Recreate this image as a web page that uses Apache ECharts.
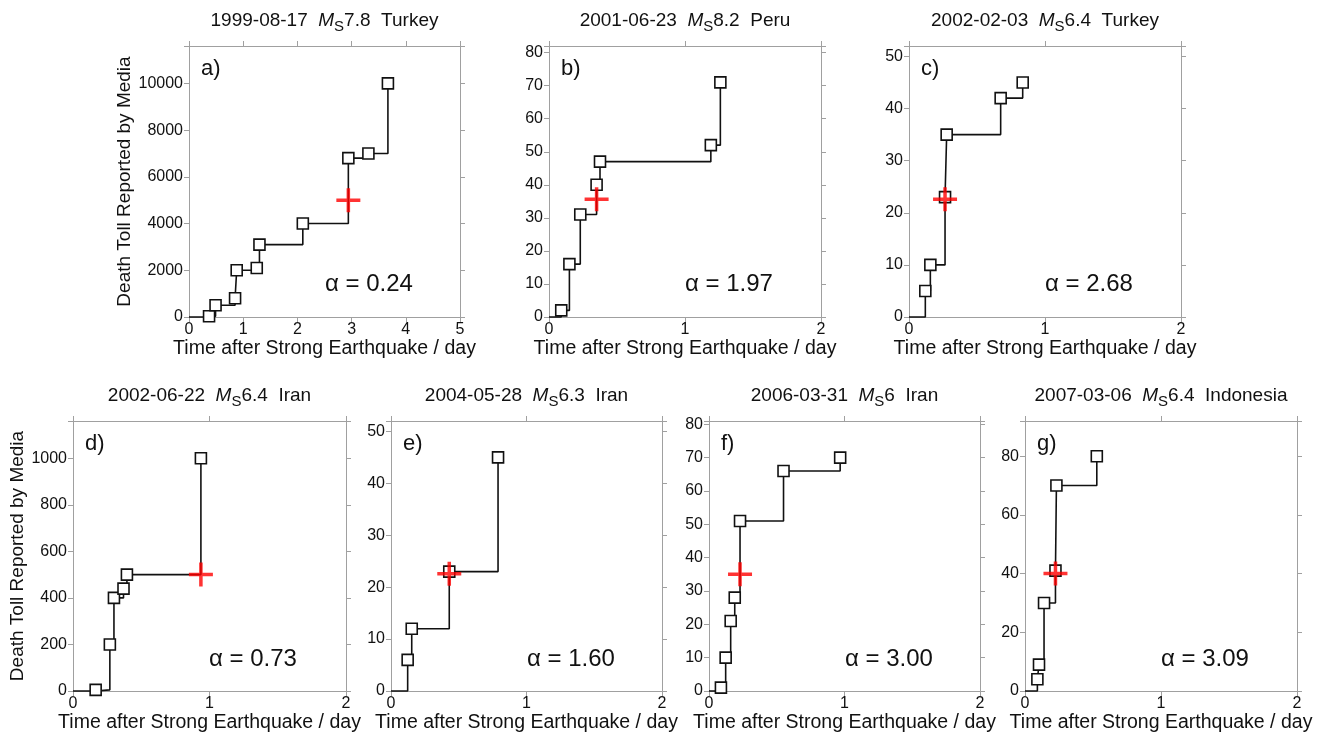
<!DOCTYPE html>
<html style="height: 100%">

<head>
    <meta charset="utf-8">
    <title>Death Toll Reported by Media</title>
</head>

<body style="height: 100%; margin: 0; background: #fff">
    <div id="container" style="width: 1320px; height: 737px"></div>
    <script src="https://cdn.jsdelivr.net/npm/echarts@6/dist/echarts.min.js"></script>
    <script type="text/javascript">
        // events
        var dates = ['1999-08-17', '2001-06-23', '2002-02-03', '2002-06-22', '2004-05-28', '2006-03-31', '2007-03-06'];
        var mags = ['7.8', '8.2', '6.4', '6.4', '6.3', '6', '6.4'];
        var places = ['Turkey', 'Peru', 'Turkey', 'Iran', 'Iran', 'Iran', 'Indonesia'];
        var tags = ['a)', 'b)', 'c)', 'd)', 'e)', 'f)', 'g)'];
        var alphas = ['0.24', '1.97', '2.68', '0.73', '1.60', '3.00', '3.09'];

        // time after quake (day) and reported death toll
        var timeA = [0.37, 0.49, 0.85, 0.88, 1.25, 1.30, 2.10, 2.94, 3.31, 3.67];
        var tollA = [30, 500, 800, 2000, 2100, 3100, 4000, 6800, 7000, 10000];
        var timeB = [0.09, 0.15, 0.23, 0.35, 0.375, 1.19, 1.26];
        var tollB = [2, 16, 31, 40, 47, 52, 71];
        var timeC = [0.12, 0.157, 0.265, 0.277, 0.674, 0.836];
        var tollC = [5, 10, 23, 35, 42, 45];
        var timeD = [0.166, 0.27, 0.30, 0.37, 0.395, 0.937];
        var tollD = [5, 200, 400, 440, 500, 1000];
        var timeE = [0.123, 0.153, 0.43, 0.79];
        var tollE = [6, 12, 23, 45];
        var timeF = [0.088, 0.123, 0.16, 0.19, 0.229, 0.55, 0.968];
        var tollF = [1, 10, 21, 28, 51, 66, 70];
        var timeG = [0.091, 0.103, 0.14, 0.224, 0.231, 0.528];
        var tollG = [4, 9, 30, 41, 70, 80];

        // red crosses
        var crossTime = [2.94, 0.35, 0.265, 0.937, 0.43, 0.229, 0.224];
        var crossToll = [5000, 35.6, 22.6, 500, 22.6, 35, 40];

        // axes
        var xMax = [5, 2, 2, 2, 2, 2, 2];
        var yMax = [11600, 82, 52, 1160, 52, 81, 92];
        var yStep = [2000, 10, 10, 200, 10, 10, 20];

        var times = [timeA, timeB, timeC, timeD, timeE, timeF, timeG];
        var tolls = [tollA, tollB, tollC, tollD, tollE, tollF, tollG];

        // plot boxes: left, top, width, height
        var boxes = [
            [189, 46, 271, 271], [549, 46, 272, 271], [909, 46, 272, 271],
            [73, 421, 273, 270], [391, 421, 271, 270], [709, 421, 271, 270], [1025, 421, 272, 270]
        ];

        var FONT = 'Liberation Sans';
        var frame = '#a0a0a0';
        var ink = '#111';
        var crossPath = 'path://M0,10.25H10.25V0H13.75V10.25H24V13.75H13.75V24H10.25V13.75H0Z';

        var myChart = echarts.init(document.getElementById('container'));

        var grid = [], xAxis = [], yAxis = [], series = [], graphic = [];

        boxes.forEach(function (b, i) {
            grid.push({ left: b[0], top: b[1], width: b[2], height: b[3], outerBoundsMode: 'none' });

            var lineCfg = { show: true, onZero: false, lineStyle: { color: frame, width: 1 } };
            var tickCfg = { show: true, inside: false, length: 5, lineStyle: { color: frame } };

            xAxis.push({
                gridIndex: i, type: 'value', position: 'bottom', min: 0, max: xMax[i], interval: 1,
                axisLine: lineCfg, axisTick: tickCfg, splitLine: { show: false },
                axisLabel: { color: ink, fontSize: 16, fontFamily: FONT, margin: 5 },
                name: 'Time after Strong Earthquake / day', nameLocation: 'middle', nameGap: 20,
                nameTextStyle: { color: ink, fontSize: 19.5, fontFamily: FONT }
            });
            xAxis.push({
                gridIndex: i, type: 'value', position: 'top', min: 0, max: xMax[i], interval: 1,
                axisLine: lineCfg, axisTick: tickCfg, splitLine: { show: false },
                axisLabel: { show: false }
            });

            var step = yStep[i];
            var left = {
                gridIndex: i, type: 'value', position: 'left', min: 0, max: yMax[i], interval: step,
                axisLine: lineCfg, axisTick: tickCfg, splitLine: { show: false },
                axisLabel: {
                    color: ink, fontSize: 16, fontFamily: FONT, margin: 6,
                    formatter: function (v) { return v % step === 0 ? String(v) : ''; }
                }
            };
            if (i === 0 || i === 3) {
                left.name = 'Death Toll Reported by Media';
                left.nameLocation = 'middle';
                left.nameGap = i === 0 ? 55 : 46;
                left.nameTextStyle = { color: ink, fontSize: 19, fontFamily: FONT };
            }
            yAxis.push(left);
            yAxis.push({
                gridIndex: i, type: 'value', position: 'right', min: 0, max: yMax[i], interval: step,
                axisLine: lineCfg, axisTick: tickCfg, splitLine: { show: false },
                axisLabel: { show: false }
            });

            var pts = [{ value: [0, 0], symbol: 'none' }];
            times[i].forEach(function (t, k) { pts.push([t, tolls[i][k]]); });

            series.push({
                type: 'line', xAxisIndex: 2 * i, yAxisIndex: 2 * i, step: 'end',
                data: pts, symbol: 'rect', symbolSize: 11, showAllSymbol: true, clip: false,
                lineStyle: { color: ink, width: 1.6 },
                itemStyle: { color: '#fff', borderColor: ink, borderWidth: 1.6 },
                z: 2, silent: true
            });
            series.push({
                type: 'scatter', xAxisIndex: 2 * i, yAxisIndex: 2 * i,
                data: [[crossTime[i], crossToll[i]]], symbol: crossPath, symbolSize: 24,
                itemStyle: { color: '#ff0000' }, z: 3, silent: true
            });

            // title
            graphic.push({
                type: 'text', x: b[0] + b[2] / 2, y: b[1] - 25,
                style: {
                    text: dates[i] + '  {i|M}{s|S}' + mags[i] + '  ' + places[i],
                    fontSize: 19, fontFamily: FONT, fill: ink,
                    textAlign: 'center', textVerticalAlign: 'middle', align: 'center', verticalAlign: 'middle',
                    rich: {
                        i: { fontSize: 19, fontFamily: FONT, fontStyle: 'italic', fill: ink, color: ink },
                        s: { fontSize: 15, fontFamily: FONT, fill: ink, color: ink, padding: [11, 0, 0, 0] }
                    }
                }
            });
            // panel tag
            graphic.push({
                type: 'text', x: b[0] + 12, y: b[1] + 23,
                style: {
                    text: tags[i], fontSize: 22, fontFamily: FONT, fill: ink,
                    textAlign: 'left', textVerticalAlign: 'middle', align: 'left', verticalAlign: 'middle'
                }
            });
            // alpha
            graphic.push({
                type: 'text', x: b[0] + 180, y: b[1] + 238,
                style: {
                    text: 'α = ' + alphas[i], fontSize: 24, fontFamily: FONT, fill: ink,
                    textAlign: 'center', textVerticalAlign: 'middle', align: 'center', verticalAlign: 'middle'
                }
            });
        });

        myChart.setOption({
            animation: false,
            backgroundColor: '#fff',
            grid: grid,
            xAxis: xAxis,
            yAxis: yAxis,
            series: series,
            graphic: graphic
        });
    </script>
</body>

</html>
